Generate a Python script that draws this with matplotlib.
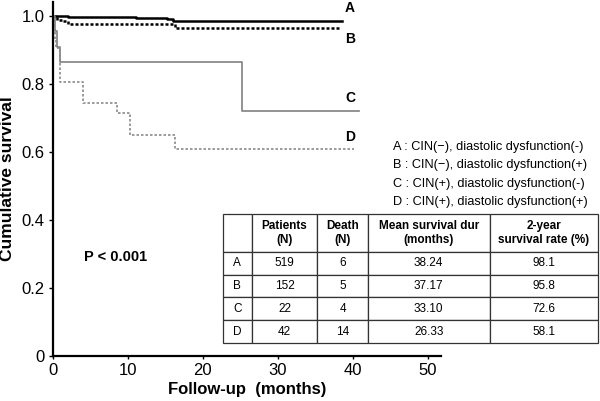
import matplotlib
matplotlib.use("Agg")
import matplotlib.pyplot as plt

plt.rcParams["font.family"] = ["Liberation Sans", "DejaVu Sans"]

# Kaplan-Meier step curves (months, survival)
t_a = [0, 2.0, 7.0, 11.1, 15.2, 16.0, 38.6]
s_a = [1.0, 0.997, 0.995, 0.992, 0.989, 0.985, 0.985]
t_b = [0, 0.5, 1.3, 2.0, 16.3, 38.3]
s_b = [1.0, 0.988, 0.983, 0.976, 0.963, 0.963]
t_c = [0, 0.25, 0.5, 1.0, 25.2, 40.9]
s_c = [1.0, 0.955, 0.909, 0.864, 0.72, 0.72]
t_d = [0, 0.1, 0.2, 0.3, 0.4, 0.9, 4.0, 8.6, 10.3, 16.3, 40.2]
s_d = [1.0, 0.976, 0.952, 0.929, 0.905, 0.804, 0.744, 0.714, 0.648, 0.607, 0.607]

groups = ["A", "B", "C", "D"]
legend_lines = ["A : CIN(\u2212), diastolic dysfunction(-)",
                "B : CIN(\u2212), diastolic dysfunction(+)",
                "C : CIN(+), diastolic dysfunction(-)",
                "D : CIN(+), diastolic dysfunction(+)"]
col_labels = ["", "Patients\n(N)", "Death\n(N)", "Mean survival dur\n(months)",
              "2-year\nsurvival rate (%)"]
patients = ["519", "152", "22", "42"]
deaths = ["6", "5", "4", "14"]
mean_dur = ["38.24", "37.17", "33.10", "26.33"]
rate_2y = ["98.1", "95.8", "72.6", "58.1"]

fig = plt.figure(figsize=(6.0, 4.01), dpi=100)
ax = fig.add_axes([53 / 600, 1 - 355.7 / 401, 388 / 600, 353.7 / 401])

ax.step(t_a, s_a, where="post", color="black", lw=1.8)
ax.step(t_b, s_b, where="post", color="black", lw=1.8, linestyle=(0, (1.2, 0.8)))
ax.step(t_c, s_c, where="post", color="#808080", lw=1.2)
ax.step(t_d, s_d, where="post", color="#8a8a8a", lw=1.2, linestyle=(0, (1.5, 1.2)))

ax.set_xlim(0, 51.8)
ax.set_ylim(0, 1.04)
ax.set_xticks([0, 10, 20, 30, 40, 50])
ax.set_yticks([0, 0.2, 0.4, 0.6, 0.8, 1.0])
ax.set_yticklabels(["0", "0.2", "0.4", "0.6", "0.8", "1.0"])
ax.tick_params(axis="y", direction="out", length=3, width=1, labelsize=12, pad=3)
ax.tick_params(axis="x", direction="out", length=2, width=1, labelsize=12, pad=3)
for side in ["top", "right"]:
    ax.spines[side].set_visible(False)
for side in ["left", "bottom"]:
    ax.spines[side].set_linewidth(1.6)

ax.set_xlabel("Follow-up  (months)", fontsize=12, fontweight="bold", labelpad=3)
ax.set_ylabel("Cumulative survival", fontsize=12.5, fontweight="bold", labelpad=5)

# group labels at curve ends
for g, y in zip(groups, [8.3, 39.3, 98.3, 136.7]):
    fig.text(350 / 600, 1 - y / 401, g, fontsize=10, fontweight="bold",
             ha="center", va="center")

for i, line in enumerate(legend_lines):
    fig.text(393 / 600, 1 - (147 + 18.3 * i) / 401, line, fontsize=9.2,
             ha="left", va="center")

fig.text(84 / 600, 1 - 257 / 401, "P < 0.001", fontsize=10.5, fontweight="bold",
         ha="left", va="center")

rows = [[g, p, d, m, r] for g, p, d, m, r in zip(groups, patients, deaths, mean_dur, rate_2y)]
x0, x1 = (223 - 53) / 388, (598 - 53) / 388
y0, y1 = (355.7 - 343.3) / 353.7, (355.7 - 214) / 353.7
col_w = [28.7, 65.6, 50.4, 121.6, 108.4]
tab = ax.table(cellText=rows, colLabels=col_labels, colWidths=[w / sum(col_w) for w in col_w],
               cellLoc="center", bbox=[x0, y0, x1 - x0, y1 - y0])
tab.auto_set_font_size(False)
for (r, c), cell in tab.get_celld().items():
    cell.set_linewidth(0.9)
    cell.set_edgecolor("#333333")
    cell.set_height(37.7 if r == 0 else 23)
    cell.get_text().set_fontsize(8.5)
    if r == 0:
        cell.get_text().set_fontweight("bold")
tab.set_clip_on(False)

fig.savefig("out.png", dpi=100)
